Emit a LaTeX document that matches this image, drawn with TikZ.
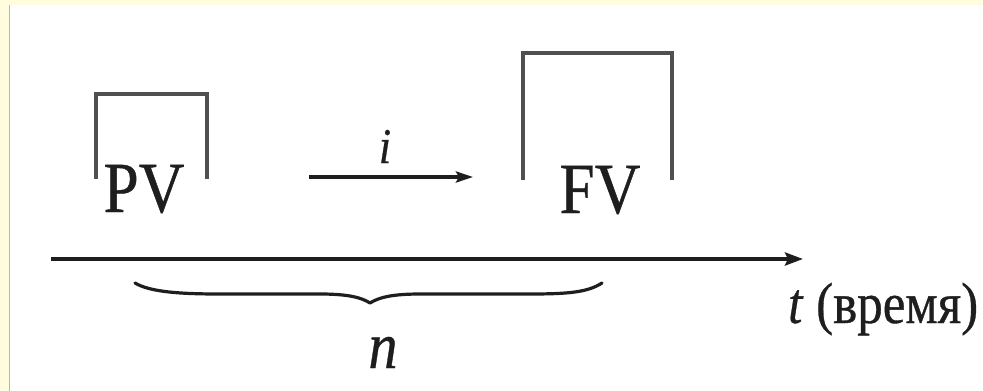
\documentclass[tikz,border=0pt]{standalone}
\usepackage{fontspec}
\usepackage{graphicx}
\setmainfont{Liberation Serif}
\newfontfamily\heavyserif[FakeBold=0.6]{Liberation Serif}
\usetikzlibrary{arrows.meta}
\definecolor{pageyellow}{RGB}{255,253,221}
\definecolor{edgegray}{RGB}{185,185,160}
\definecolor{inkdark}{RGB}{30,30,30}
\definecolor{inkgray}{RGB}{80,80,80}
\newcommand{\narrowtext}[1]{\scalebox{0.88}[1]{#1}}
\tikzset{
  bigtext/.style={font=\heavyserif\fontsize{72}{80}\selectfont, inner sep=0pt, anchor=base, text=inkdark},
  itext/.style={font=\heavyserif\itshape\fontsize{#1}{#1}\selectfont, inner sep=0pt, anchor=base, text=inkdark},
  bracketline/.style={draw=inkgray, line width=3.2pt, line join=miter},
  axisline/.style={draw=inkdark, line width=4.4pt, -{Stealth[length=18pt,width=13pt,inset=3pt]}},
  rateline/.style={draw=inkdark, line width=3.6pt, -{Stealth[length=17pt,width=11pt,inset=3pt]}},
  bracepath/.style={draw=inkdark, line width=3.2pt, line cap=round, line join=round}
}
\begin{document}
\begin{tikzpicture}[x=1pt,y=-1pt]
\useasboundingbox (0,0) rectangle (983,391);
\fill[white] (0,0) rectangle (983,391);
\fill[pageyellow] (0,0) rectangle (983,5);
\fill[pageyellow] (0,0) rectangle (9,391);
\draw[edgegray, line width=1.2pt] (9.6,5) -- (9.6,391);

% PV bracket
\coordinate (pvbl) at (96,179);
\coordinate (pvtl) at (96,94);
\coordinate (pvtr) at (207,94);
\coordinate (pvbr) at (207,179);
\draw[bracketline] (pvbl) -- (pvtl) -- (pvtr) -- (pvbr);
\node[bigtext] (pv) at (144,212) {\narrowtext{PV}};

% FV bracket
\coordinate (fvbl) at (523,180);
\coordinate (fvtl) at (523,53);
\coordinate (fvtr) at (672,53);
\coordinate (fvbr) at (672,180);
\draw[bracketline] (fvbl) -- (fvtl) -- (fvtr) -- (fvbr);
\node[bigtext] (fv) at (600,213) {\narrowtext{FV}};

% rate arrow
\coordinate (ia) at (309,177);
\coordinate (ib) at (473,177);
\draw[rateline] (ia) -- (ib);
\node[itext=50] (i) at (385,163) {\narrowtext{i}};

% time axis
\coordinate (ta) at (51,259);
\coordinate (tb) at (803,259);
\draw[axisline] (ta) -- (tb);
\node[font=\heavyserif\fontsize{58}{60}\selectfont, inner sep=0pt, anchor=base west, text=inkdark] (tlabel) at (788,323) {\narrowtext{\textit{t} (время)}};

% brace
\coordinate (bl) at (135,283);
\coordinate (bt) at (370,303);
\coordinate (br) at (602,283);
\draw[bracepath] (bl) .. controls (150,292) and (180,294) .. (220,294) -- (320,294)
  .. controls (350,294) and (362,298) .. (bt)
  .. controls (378,298) and (390,294) .. (420,294) -- (530,294)
  .. controls (570,294) and (588,292) .. (br);
\node[itext=66] (n) at (383,368) {\narrowtext{n}};
\end{tikzpicture}
\end{document}
